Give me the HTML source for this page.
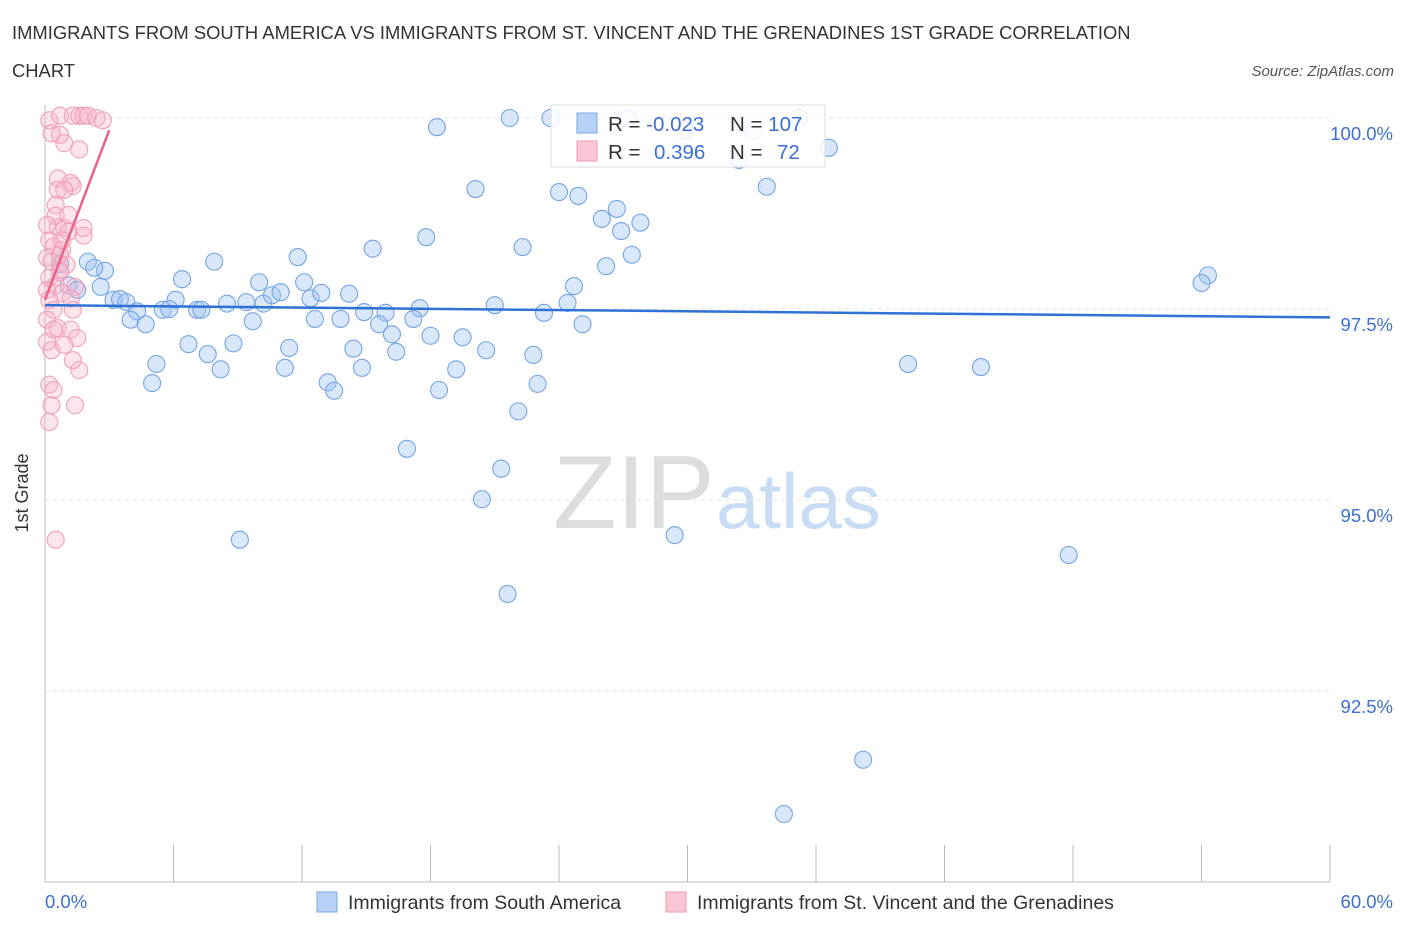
<!DOCTYPE html>
<html><head><meta charset="utf-8"><style>
body{margin:0;background:#fff;font-family:"Liberation Sans",sans-serif;}
svg text{font-family:"Liberation Sans",sans-serif;}
</style></head><body>
<svg id="chart" width="1406" height="930">
<text x="12" y="39" font-size="18.4" fill="#333">IMMIGRANTS FROM SOUTH AMERICA VS IMMIGRANTS FROM ST. VINCENT AND THE GRENADINES 1ST GRADE CORRELATION</text>
<text x="12" y="77" font-size="18.4" fill="#333">CHART</text>
<text x="1394" y="76" font-size="15" fill="#555" font-style="italic" text-anchor="end">Source: ZipAtlas.com</text>
<g>
<text x="553" y="528" font-size="104" fill="#ddd" font-family="Liberation Serif,serif">ZIP</text>
<text x="716" y="528" font-size="78" fill="#c8dcf3">atlas</text>
</g>
<g id="grid"></g>
<g id="axes"></g>
<g id="pts"></g>
<g id="lines"></g>
<text x="28" y="493" font-size="18" fill="#333" text-anchor="middle" transform="rotate(-90 28 493)">1st Grade</text>
<text x="45" y="908" font-size="18.5" fill="#3b6fd4">0.0%</text>
<text x="1393" y="908" font-size="18.5" fill="#3b6fd4" text-anchor="end">60.0%</text>
<g>
<rect x="551" y="105" width="274" height="62" fill="#fff" fill-opacity="0.85" stroke="#ddd"/>
<rect x="577" y="113" width="20" height="20" fill="#b6d1f5" stroke="#7aa6e6"/>
<rect x="577" y="141" width="20" height="20" fill="#f9c6d4" stroke="#ee9ab3"/>
<text x="608" y="131" font-size="20.5" fill="#333">R = <tspan fill="#3b6fd4">-0.023</tspan></text>
<text x="730" y="131" font-size="20.5" fill="#333">N = <tspan fill="#3b6fd4">107</tspan></text>
<text x="608" y="159" font-size="20.5" fill="#333">R = <tspan fill="#3b6fd4" x="654">0.396</tspan></text>
<text x="730" y="159" font-size="20.5" fill="#333">N = <tspan fill="#3b6fd4" x="777">72</tspan></text>
</g>
<g>
<rect x="317" y="892" width="20" height="20" fill="#b6d1f5" stroke="#7aa6e6"/>
<text x="348" y="909" font-size="19.5" fill="#333">Immigrants from South America</text>
<rect x="666" y="892" width="20" height="20" fill="#f9c6d4" stroke="#ee9ab3"/>
<text x="697" y="909" font-size="19.5" fill="#333">Immigrants from St. Vincent and the Grenadines</text>
</g>
</svg>
<script>
const yTicks=[100,97.5,95,92.5];
const yTickLabels=["100.0%","97.5%","95.0%","92.5%"];
const blueX=[21.7,23.6,18.3,27.2,35.2,29.9,33.1,32.4,36.6,20.1,24.0,24.9,33.7,26.0,26.7,26.9,27.8,17.8,22.3,15.3,27.4,7.9,11.8,26.2,54.3,54.0,6.4,10.0,12.1,24.7,0.7,2.0,2.8,2.3,1.1,2.6,1.5,3.2,3.5,3.8,6.1,5.5,5.8,7.1,7.3,8.5,9.4,10.2,10.6,11.0,12.4,12.9,14.2,14.9,15.9,17.5,21.0,24.4,4.3,4.0,4.7,9.7,12.6,13.8,15.6,16.2,17.2,18.0,19.5,23.3,25.1,6.7,7.6,8.8,11.4,14.4,16.4,20.6,22.8,5.2,8.2,11.2,14.8,19.2,5.0,13.2,13.5,18.4,23.0,22.1,40.3,43.7,16.9,21.3,20.4,9.1,29.4,47.8,21.6,38.2,34.5];
const blueY=[100.0,100.0,99.88,100.0,100.0,99.84,99.84,99.45,99.61,99.07,99.03,98.98,99.10,98.68,98.81,98.52,98.63,98.44,98.31,98.29,98.21,98.12,98.18,98.06,97.94,97.84,97.89,97.85,97.85,97.80,98.09,98.12,98.00,98.04,97.81,97.79,97.75,97.62,97.63,97.59,97.62,97.49,97.50,97.49,97.49,97.57,97.59,97.57,97.68,97.72,97.64,97.71,97.70,97.46,97.45,97.51,97.55,97.58,97.47,97.36,97.30,97.34,97.37,97.37,97.30,97.17,97.37,97.15,97.13,97.45,97.30,97.04,96.91,97.05,96.99,96.98,96.94,96.96,96.90,96.78,96.71,96.73,96.73,96.71,96.53,96.54,96.43,96.44,96.52,96.16,96.78,96.74,95.67,95.41,95.01,94.48,94.54,94.28,93.77,91.60,90.89];
const pinkX=[0.2,0.7,1.3,1.6,1.8,2.0,2.4,2.7,0.7,0.9,1.6,0.3,0.6,1.2,1.3,0.6,0.5,0.5,0.6,0.9,1.1,1.8,0.2,0.4,0.8,0.1,0.3,1.0,0.7,0.2,0.5,1.4,0.1,0.8,0.2,1.2,0.4,1.3,0.1,0.6,1.2,1.5,0.1,0.3,0.9,1.3,1.6,0.2,0.4,1.4,0.3,0.2,0.5,0.1,0.7,0.8,1.1,1.8,0.9,0.4,0.7];
const pinkY=[99.97,100.03,100.03,100.03,100.03,100.03,100.0,99.97,99.78,99.67,99.59,99.80,99.21,99.15,99.11,99.06,98.86,98.72,98.57,98.56,98.51,98.46,98.40,98.32,98.27,98.17,98.12,98.08,98.01,97.91,97.81,97.79,97.75,97.71,97.62,97.64,97.49,97.49,97.36,97.25,97.23,97.12,97.07,96.96,97.03,96.83,96.70,96.51,96.44,96.24,96.24,96.02,94.48,98.60,98.21,98.40,98.73,98.56,99.06,97.23,97.98];
const blueTrendX=[0,60], blueTrendY=[97.55,97.39];
const pinkTrendX=[0,3.0], pinkTrendY=[97.62,99.84];

const NS="http://www.w3.org/2000/svg";
const X0=45,X1=1330,YTOP=118,PX_PER_25=191;
function sx(v){return X0+(v/60)*(X1-X0);}
function sy(v){return YTOP+(100-v)/2.5*PX_PER_25;}
function mk(t,a,p){const e=document.createElementNS(NS,t);for(const k in a)e.setAttribute(k,a[k]);p.appendChild(e);return e;}
const grid=document.getElementById('grid'),axes=document.getElementById('axes'),pts=document.getElementById('pts'),lines=document.getElementById('lines');
yTicks.forEach((t,i)=>{
  const l=mk('line',{x1:X0,x2:X1,y1:sy(t),y2:sy(t),stroke:'#e2e2e2','stroke-dasharray':'4,4'},grid);
  
  
  const tx=mk('text',{x:1393,y:sy(t)+22,'font-size':18.5,fill:'#3b6fd4','text-anchor':'end'},grid);
  tx.textContent=yTickLabels[i];
  
  
});
const ya=mk('line',{x1:X0,x2:X0,y1:105,y2:882,stroke:'#bbb'},axes);


const xa=mk('line',{x1:X0,x2:X1,y1:882,y2:882,stroke:'#bbb'},axes);


for(let k=0;k<=10;k++){
  const tk=mk('line',{x1:sx(k*6),x2:sx(k*6),y1:845,y2:882,stroke:'#bbb'},axes);
  
  
}
blueX.forEach((x,i)=>{
  const c=mk('circle',{cx:sx(x),cy:sy(blueY[i]),r:8.5,fill:'rgba(160,195,242,0.4)',stroke:'#74a4e4','stroke-width':1.1},pts);
  
  
});
pinkX.forEach((x,i)=>{
  const c=mk('circle',{cx:sx(x),cy:sy(pinkY[i]),r:8.5,fill:'rgba(246,180,200,0.35)',stroke:'#f0a0b8','stroke-width':1.1},pts);
  
  
});
const bl=mk('line',{x1:sx(blueTrendX[0]),y1:sy(blueTrendY[0]),x2:sx(blueTrendX[1]),y2:sy(blueTrendY[1]),stroke:'#2f72d6','stroke-width':2.5},lines);


const pl=mk('line',{x1:sx(pinkTrendX[0]),y1:sy(pinkTrendY[0]),x2:sx(pinkTrendX[1]),y2:sy(pinkTrendY[1]),stroke:'#e8628a','stroke-width':2.5},lines);


</script>
</body></html>
